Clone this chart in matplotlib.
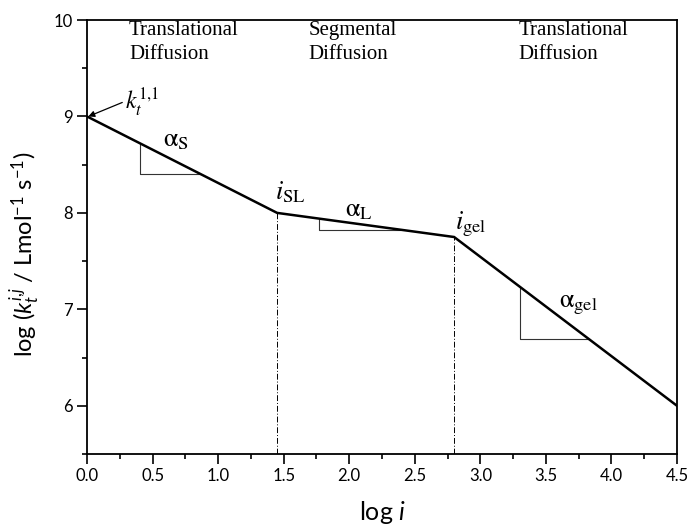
import numpy as np
import matplotlib
matplotlib.use('Agg')
import matplotlib.pyplot as plt
from matplotlib.ticker import MultipleLocator

plt.rcParams['font.family'] = ['Lato', 'DejaVu Sans']
plt.rcParams['mathtext.fontset'] = 'custom'
plt.rcParams['mathtext.rm'] = 'Lato'
plt.rcParams['mathtext.it'] = 'Lato:italic'

# piecewise line log(kt) vs log(i)
seg_x = [0.0, 1.45, 2.8, 4.5]
seg_y = [9.0, 8.0, 7.75, 6.0]

# slope triangles (x start, x end on each segment)
tri_x0 = [0.407, 1.767, 3.30]
tri_x1 = [0.862, 2.39, 3.83]

# break points (i_SL, i_gel)
break_x = [1.45, 2.8]

region_names = ['Translational\nDiffusion', 'Segmental\nDiffusion', 'Translational\nDiffusion']
region_x = [0.32, 1.69, 3.29]

alpha_subs = ['S', 'L', 'gel']
alpha_pos = [(0.58, 8.69), (1.97, 7.96), (3.60, 7.02)]
i_subs = ['SL', 'gel']
i_pos = [(1.43, 8.14), (2.81, 7.83)]

fig = plt.figure(figsize=(6.89, 5.25), dpi=100)
ax = fig.add_axes([0.1263, 0.1352, 0.8563, 0.8267])

ax.plot(seg_x, seg_y, color='black', lw=1.8, solid_joinstyle='miter', zorder=3)

for bx in break_x:
    ax.plot([bx, bx], [5.5, np.interp(bx, seg_x, seg_y)], color='black',
            lw=0.7, ls=(0, (6, 2, 1, 2)), zorder=2)

for x0, x1 in zip(tri_x0, tri_x1):
    y0 = np.interp(x0, seg_x, seg_y)
    y1 = np.interp(x1, seg_x, seg_y)
    ax.plot([x0, x0, x1], [y0, y1, y1], color='#333333', lw=0.8, zorder=2)

for name, rx in zip(region_names, region_x):
    ax.text(rx, 9.985, name, ha='left', va='top', fontsize=15,
            family='Liberation Serif', linespacing=1.3)

for sub, (px, py) in zip(alpha_subs, alpha_pos):
    ax.text(px, py, r'$\mathrm{α}_{\mathrm{%s}}$' % sub, ha='left', va='baseline',
            fontsize=19, math_fontfamily='stix')

for sub, (px, py) in zip(i_subs, i_pos):
    ax.text(px, py, r'$i_{\mathrm{%s}}$' % sub, ha='left', va='baseline',
            fontsize=19, math_fontfamily='stix')

ax.annotate(r'$k_t^{1{,}1}$', xy=(0.01, 9.0), xytext=(0.29, 9.07),
            fontsize=17, math_fontfamily='stix', ha='left', va='baseline',
            arrowprops=dict(arrowstyle='-|>', color='black', lw=0.9,
                            mutation_scale=9, shrinkA=0, shrinkB=0,
                            relpos=(0.0, 0.55)))

ax.set_xlim(0, 4.5)
ax.set_ylim(5.5, 10)
ax.xaxis.set_major_locator(MultipleLocator(0.5))
ax.xaxis.set_minor_locator(MultipleLocator(0.25))
ax.yaxis.set_major_locator(MultipleLocator(1))
ax.yaxis.set_minor_locator(MultipleLocator(0.5))
ax.xaxis.set_major_formatter(plt.FuncFormatter(lambda v, p: f'{v:.1f}'))
ax.yaxis.set_major_formatter(plt.FuncFormatter(lambda v, p: f'{v:.0f}'))

for sp in ax.spines.values():
    sp.set_linewidth(1.3)
ax.tick_params(which='major', direction='out', length=7, width=1.2, labelsize=12, pad=3)
ax.tick_params(which='minor', direction='out', length=3.5, width=1.2)

ax.set_xlabel(r'log $i$', fontsize=18, labelpad=11)
ax.set_ylabel(r'log ($k_t^{i{,}j}$ / Lmol$^{-1}$ s$^{-1}$)', fontsize=17)
ax.yaxis.set_label_coords(-0.075, 0.46)

fig.savefig('out.png', dpi=100)
